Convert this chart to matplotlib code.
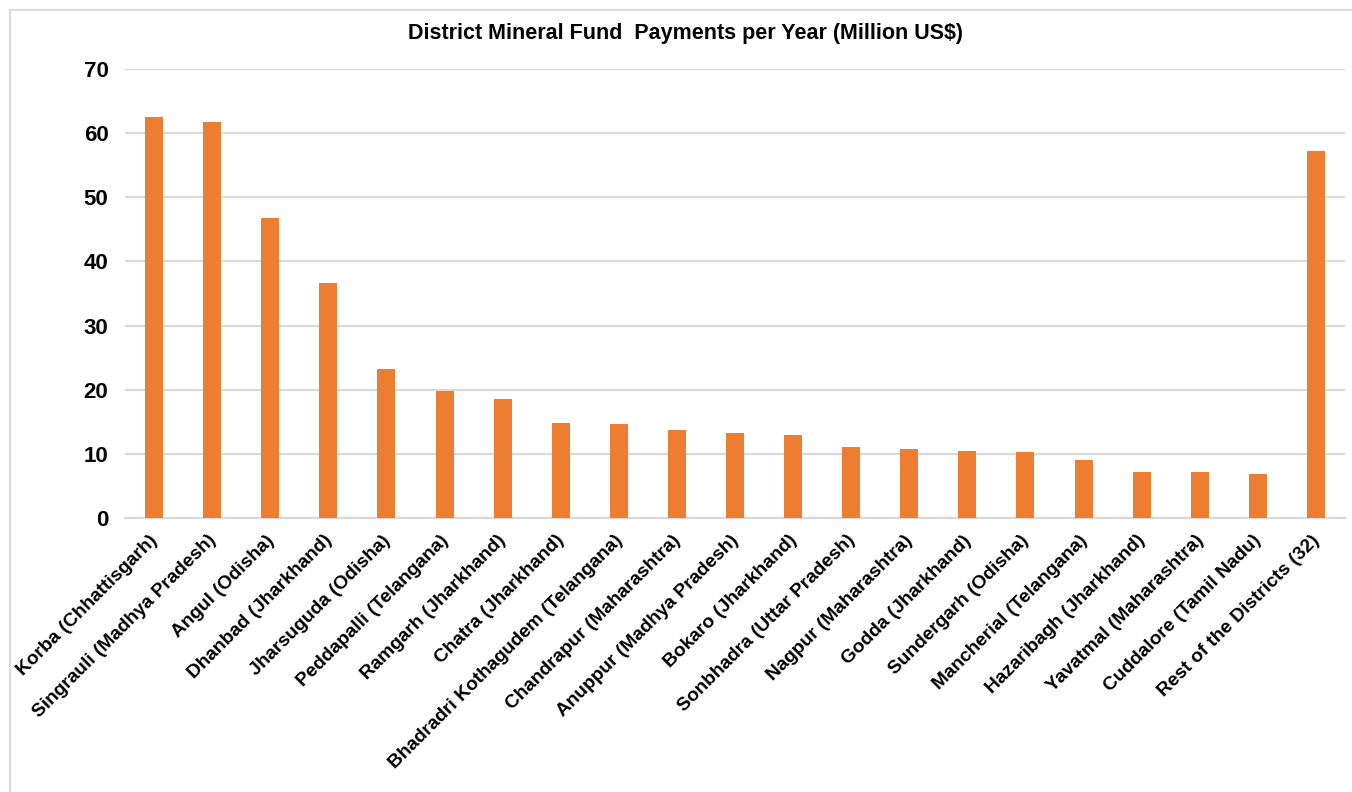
import matplotlib
matplotlib.use("Agg")
import matplotlib.pyplot as plt
from matplotlib.patches import Rectangle
from matplotlib.transforms import ScaledTranslation

plt.rcParams['font.family'] = ['Liberation Sans', 'DejaVu Sans']

districts = [
    "Korba (Chhattisgarh)", "Singrauli (Madhya Pradesh)", "Angul (Odisha)",
    "Dhanbad (Jharkhand)", "Jharsuguda (Odisha)", "Peddapalli (Telangana)",
    "Ramgarh (Jharkhand)", "Chatra (Jharkhand)", "Bhadradri Kothagudem (Telangana)",
    "Chandrapur (Maharashtra)", "Anuppur (Madhya Pradesh)", "Bokaro (Jharkhand)",
    "Sonbhadra (Uttar Pradesh)", "Nagpur (Maharashtra)", "Godda (Jharkhand)",
    "Sundergarh (Odisha)", "Mancherial (Telangana)", "Hazaribagh (Jharkhand)",
    "Yavatmal (Maharashtra)", "Cuddalore (Tamil Nadu)", "Rest of the Districts (32)",
]
payments = [62.5, 61.7, 46.8, 36.7, 23.2, 19.8, 18.5, 14.8, 14.6, 13.7,
            13.2, 12.9, 11.1, 10.8, 10.5, 10.3, 9.0, 7.2, 7.2, 6.9, 57.2]
yticks = [0, 10, 20, 30, 40, 50, 60, 70]

fig = plt.figure(figsize=(13.52, 7.92), dpi=100)
ax = fig.add_axes([0.0925, 0.346, 0.9023, 0.5669])

# outer chart border (only top/left edges fall inside the canvas)
fig.patches.append(Rectangle((10 / 1352, -0.05), 1.1, 1 - 10 / 792 + 0.05,
                             transform=fig.transFigure, fill=False,
                             edgecolor='#d9d9d9', linewidth=1.5))

x = range(len(districts))
ax.bar(x, payments, width=0.31, color='#ED7D31', zorder=3)

ax.set_xlim(-0.5, len(districts) - 0.5)
ax.set_ylim(0, 70)
ax.set_yticks(yticks)
ax.set_yticklabels([str(v) for v in yticks], fontsize=16, fontweight='bold')
ax.yaxis.grid(True, color='#d9d9d9', linewidth=1.6, zorder=0)
ax.tick_params(axis='both', length=0)
ax.tick_params(axis='y', pad=12)
ax.set_xticks(list(x))
ax.set_xticklabels(districts, rotation=45, ha='right', rotation_mode='anchor',
                   fontsize=13.8, fontweight='bold')
ax.tick_params(axis='x', pad=10)

# nudge rotated labels slightly left so their ends sit under the bars
shift = ScaledTranslation(-5 / 100, 0, fig.dpi_scale_trans)
for lbl in ax.get_xticklabels():
    lbl.set_transform(lbl.get_transform() + shift)

for side in ['top', 'right', 'left']:
    ax.spines[side].set_visible(False)
ax.spines['bottom'].set_color('#d9d9d9')
ax.spines['bottom'].set_linewidth(1.6)

fig.text(0.507, 1 - 33 / 792, "District Mineral Fund  Payments per Year (Million US$)",
         ha='center', va='center', fontsize=15.5, fontweight='bold')

fig.savefig("out.png", dpi=100)
